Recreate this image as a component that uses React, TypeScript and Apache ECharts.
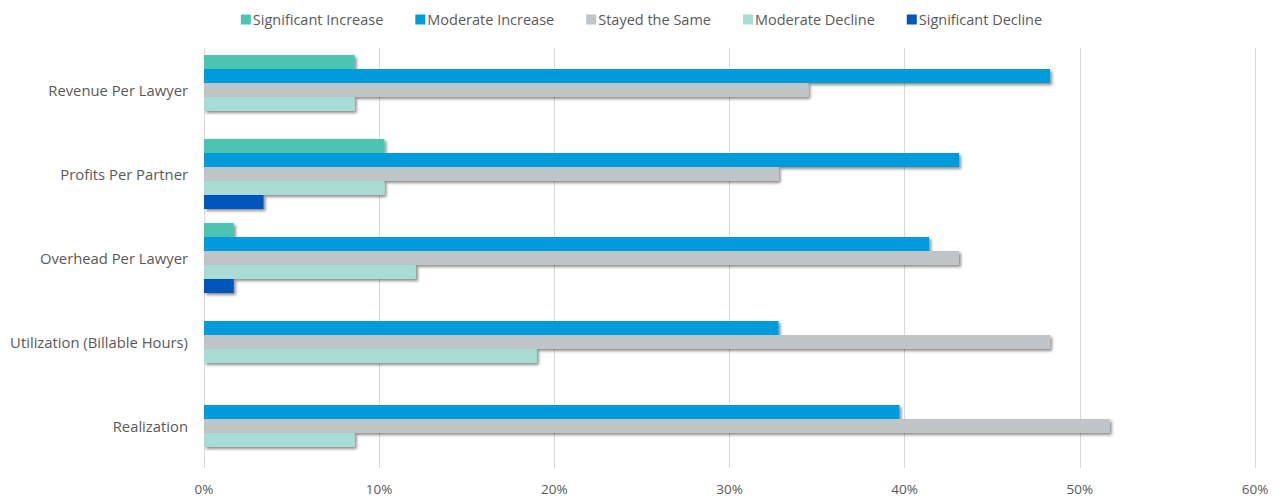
import React, { useEffect, useRef } from "react";
import * as echarts from "echarts";

const categories = [
  "Revenue Per Lawyer",
  "Profits Per Partner",
  "Overhead Per Lawyer",
  "Utilization (Billable Hours)",
  "Realization",
];
const seriesNames = [
  "Significant Increase",
  "Moderate Increase",
  "Stayed the Same",
  "Moderate Decline",
  "Significant Decline",
];
const significantIncrease = [8.6, 10.3, 1.7, 0, 0];
const moderateIncrease = [48.3, 43.1, 41.4, 32.8, 39.7];
const stayedSame = [34.5, 32.8, 43.1, 48.3, 51.7];
const moderateDecline = [8.6, 10.3, 12.1, 19.0, 8.6];
const significantDecline = [0, 3.4, 1.7, 0, 0];
const colors = ["#4bc5b0", "#009bdb", "#c0c5c8", "#a8dcd4", "#0055b8"];
const xTicks = [0, 10, 20, 30, 40, 50, 60];

export default function App() {
  const ref = useRef<HTMLDivElement>(null);
  useEffect(() => {
    if (!ref.current) return;
    const chart = echarts.init(ref.current, null, { renderer: "svg" });
    const allData = [significantIncrease, moderateIncrease, stayedSame, moderateDecline, significantDecline];
    const font = "'Open Sans', sans-serif";
    chart.setOption({
      animation: false,
      color: colors,
      legend: {
        top: 7,
        left: "center",
        itemWidth: 10,
        itemHeight: 10,
        itemGap: 32,
        icon: "rect",
        textStyle: { color: "#595959", fontSize: 14.5, fontFamily: font, padding: [0, 0, 0, -3] },
        data: seriesNames,
      },
      grid: { left: 204, right: 28, top: 48, bottom: 35 },
      xAxis: {
        type: "value",
        min: xTicks[0],
        max: xTicks[xTicks.length - 1],
        interval: 10,
        axisLine: { show: false },
        axisTick: { show: false },
        splitLine: { show: true, lineStyle: { color: "#d9d9d9", width: 1 } },
        axisLabel: {
          color: "#595959",
          fontSize: 13.5,
          fontFamily: font,
          margin: 14,
          formatter: (v: number) => `${v}%`,
        },
      },
      yAxis: {
        type: "category",
        inverse: true,
        data: categories,
        axisLine: { show: false },
        axisTick: { show: false },
        axisLabel: { color: "#595959", fontSize: 14.8, fontFamily: font, margin: 16 },
      },
      series: seriesNames.map((name, i) => ({
        name,
        type: "bar",
        data: allData[i],
        barGap: "0%",
        barCategoryGap: "16.7%",
        itemStyle: {
          color: colors[i],
          shadowColor: "rgba(0,0,0,0.45)",
          shadowBlur: 3,
          shadowOffsetX: 2,
          shadowOffsetY: 2,
        },
      })),
    });
    return () => chart.dispose();
  }, []);
  return (
    <div
      ref={ref}
      style={{ position: "absolute", left: 0, top: 0, width: 1283, height: 503 }}
    />
  );
}
